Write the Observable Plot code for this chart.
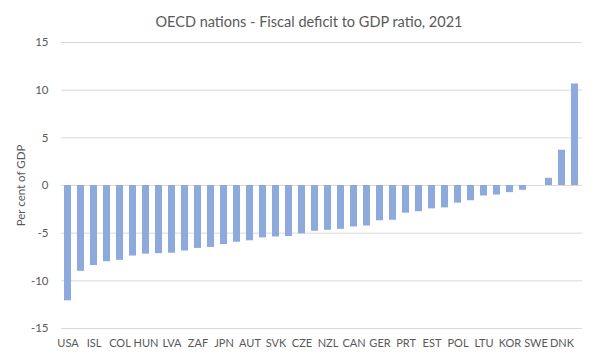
<!DOCTYPE html>
<html>
<head>
<meta charset="utf-8">
<script src="https://cdn.jsdelivr.net/npm/d3@7"></script>
<script src="https://cdn.jsdelivr.net/npm/@observablehq/plot@0.6"></script>
<style>
  html, body { margin: 0; padding: 0; background: #fff; }
  body { width: 600px; height: 362px; overflow: hidden; font-family: Lato, "Liberation Sans", sans-serif; }
  #title { height: 17px; padding-top: 15px; line-height: 14px; font-size: 14.5px; color: #595959; text-align: center; padding-left: 18px; }
</style>
</head>
<body>
<div id="title">OECD nations - Fiscal deficit to GDP ratio, 2021</div>
<div id="chart"></div>
<script>
// Countries in chart order (every other one is labelled on the axis)
const countries = ["USA","GBR","ISL","CHL","COL","GRC","HUN","ITA","LVA","ESP",
                   "ZAF","FRA","JPN","BEL","AUT","AUS","SVK","SVN","CZE","ISR",
                   "NZL","MEX","CAN","TUR","GER","FIN","PRT","NLD","EST","CRI",
                   "POL","IRL","LTU","CHE","KOR","BRA","SWE","LUX","DNK","NOR"];
// Fiscal balance, per cent of GDP
const balance = [-12.1, -9.0, -8.4, -8.0, -7.85, -7.4, -7.2, -7.15, -7.1, -6.87,
                 -6.6, -6.5, -6.2, -5.95, -5.8, -5.5, -5.4, -5.35, -5.07, -4.8,
                 -4.7, -4.6, -4.35, -4.25, -3.7, -3.65, -2.9, -2.75, -2.45, -2.35,
                 -1.85, -1.6, -1.1, -1.0, -0.75, -0.5, 0.0, 0.75, 3.7, 10.65];
const yTicks = [-15, -10, -5, 0, 5, 10, 15];
const labelled = countries.filter((d, i) => i % 2 === 0);

const data = countries.map((c, i) => ({country: c, value: balance[i]}));

const chart = Plot.plot({
  width: 600,
  height: 330,
  marginTop: 10,
  marginBottom: 34,
  marginLeft: 61,
  marginRight: 18,
  style: {fontFamily: "Lato, 'Liberation Sans', sans-serif", fontSize: "11.5px", color: "#595959", background: "#fff"},
  x: {domain: countries, paddingInner: 0.44, paddingOuter: 0.22, label: null},
  y: {domain: [-15, 15], label: null},
  marks: [
    Plot.gridY(yTicks, {stroke: "#d9d9d9", strokeOpacity: 1, strokeWidth: 1}),
    Plot.barY(data, {x: "country", y: "value", fill: "#8eaadc"}),
    Plot.axisY(yTicks, {tickSize: 0, tickPadding: 13, fontSize: 11.5, fill: "#595959",
      tickFormat: d => String(d),
      label: "Per cent of GDP", labelAnchor: "center", labelArrow: "none", labelOffset: 45}),
    Plot.axisX(labelled, {tickSize: 0, tickPadding: 11, fontSize: 11, fill: "#595959", label: null})
  ]
});
document.getElementById("chart").appendChild(chart);
</script>
</body>
</html>
